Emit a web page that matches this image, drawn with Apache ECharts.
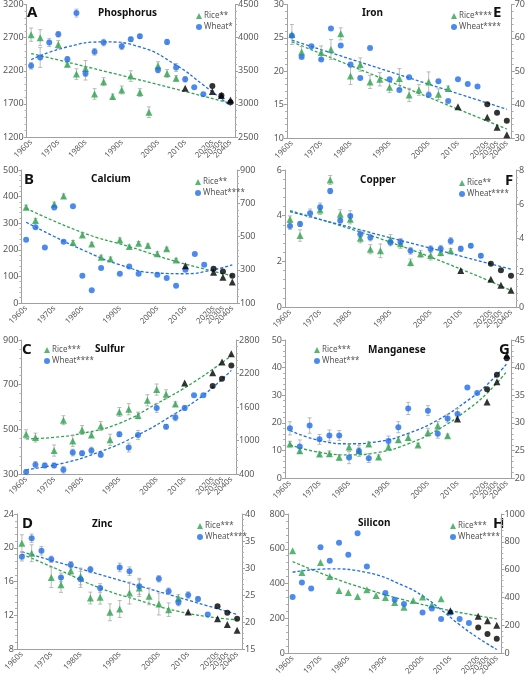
<!DOCTYPE html>
<html>
<head>
<meta charset="utf-8">
<script src="https://cdn.jsdelivr.net/npm/echarts@6/dist/echarts.min.js"></script>
<style>
  html, body { margin: 0; padding: 0; background: #fff; }
  #chart { width: 528px; height: 680px; }
</style>
</head>
<body>
<div id="chart"></div>
<script>
// x positions: 23 sampling slots, only some carry a decade label
const xLabels = ['1960s', '', '', '1970s', '', '', '1980s', '', '', '', '1990s', '', '', '',
  '2000s', '', '', '2010s', '', '', '2020s', '2030s', '2040s'];

// [slot, value, error]
// A - Phosphorus
const riceA = [[0,2745,100],[1,2700,120],[3,2595,60],[4,2300,40],[5,2150,80],[6,2235,120],[7,1850,80],[8,2035,60],
  [9,1810,40],[10,1910,60],[11,2120,80],[12,1870,60],[13,1575,80],[14,2275,60],[15,2160,60],[16,2085,40]];
const riceProjA = [[17,1935],[20,1885],[21,1825],[22,1760]];
const wheatA = [[0,3575,50],[1,3700,150],[2,3925,60],[3,4050,40],[4,3675,40],[5,4370,60],[6,3460,100],[7,3785,50],
  [8,3925,50],[10,3870,50],[11,3975,30],[12,4020,30],[14,3510,40],[15,3935,40],[16,3550,60],[17,3370,40],[18,3250,0],[19,3145,0]];
const wheatProjA = [[20,3270],[21,3125],[22,3025]];
const riceFitA = [[0,2460],[11,2095],[22,1710]];
const wheatFitA = [[0,3670],[4,3860],[8,3935],[12,3860],[16,3585],[19,3285],[22,2970]];

// E - Iron
const riceE = [[0,25.5,1.5],[1,22.9,0.8],[3,22.8,1],[4,23.25,1.5],[5,25.6,0.9],[6,19.3,1.3],[7,21.0,1],[8,18.4,1],
  [9,18.8,1],[10,17.6,0.8],[11,18.9,1.5],[12,16.45,1],[13,17.2,0.8],[14,18.4,1.5],[15,16.55,0.8],[16,17.4,0.4]];
const riceProjE = [[17,14.7],[20,13.1],[21,11.6],[22,10.5]];
const wheatE = [[0,60.6],[1,54.3],[2,57.5],[3,53.5],[4,62.8],[5,57.7],[6,52.0],[7,48.0],[8,57.0],[10,47.6],
  [11,44.4],[12,48.2],[14,42.9],[15,47.0],[16,41.1],[17,47.6],[18,46.2],[19,45.4]];
const wheatProjE = [[20,40.1],[21,37.6],[22,35.2]];
const riceFitE = [[0,24.4],[22,11.35]];
const wheatFitE = [[0,59.3],[22,38.6]];

// B - Calcium
const riceB = [[0,360,8],[1,310,8],[3,371,8],[4,402,8],[5,227,8],[6,256,8],[7,222,6],[8,172,8],[9,165,8],
  [10,237,8],[11,212,6],[12,225,6],[13,216,6],[14,185,8],[15,204,6],[16,162,6]];
const riceProjB = [[17,140],[20,116],[21,97],[22,79]];
const wheatB = [[0,480],[1,556],[2,434],[3,674],[4,468],[5,682],[6,264],[7,176],[8,310],[10,276],[11,320],
  [12,276],[14,270],[15,250],[16,204],[17,300],[18,394],[19,330]];
const wheatProjB = [[20,306],[21,290],[22,264]];
const riceFitB = [[0,356],[6,265],[11,212],[16,156],[22,102]];
const wheatFitB = [[0,586],[3,500],[6,420],[10,330],[14,280],[17,276],[20,300],[22,330]];

// F - Copper
const riceF = [[0,3.84,0.15],[1,3.13,0.25],[3,4.25,0.2],[4,5.56,0.2],[5,4.06,0.2],[6,3.84,0.2],[7,3.01,0.2],
  [8,2.53,0.2],[9,2.46,0.3],[10,2.97,0.2],[11,2.77,0.2],[12,1.95,0.15],[13,2.33,0.15],[14,2.26,0.2],[15,2.39,0.15],[16,2.46,0.1]];
const riceProjF = [[17,1.6],[20,1.22],[21,0.95],[22,0.73]];
const wheatF = [[0,4.73,0.2],[1,4.85,0.15],[2,5.47,0.25],[3,5.82,0.25],[4,6.77,0.15],[5,5.05,0.15],[6,5.32,0.3],
  [7,4.25,0.2],[8,4.06,0.2],[10,3.77,0.2],[11,3.79,0.2],[12,3.28,0.2],[14,3.38,0.2],[15,3.4,0.2],[16,3.86,0.2],
  [17,3.4,0.15],[18,3.57,0.1],[19,2.99,0.1]];
const wheatProjF = [[20,2.52],[21,2.14],[22,1.82]];
const riceFitF = [[0,4.22],[11,2.68],[22,0.73]];
const wheatFitF = [[0,5.57],[22,2.21]];

// C - Sulfur
const riceC = [[0,478,20],[1,463,20],[3,405,25],[4,541,20],[5,448,25],[6,497,20],[7,475,10],[8,515,20],
  [9,453,25],[10,578,20],[11,590,25],[12,562,15],[13,630,25],[14,678,25],[15,657,20],[16,613,10]];
const riceProjC = [[17,707],[20,753],[21,801],[22,838]];
const wheatC = [[0,436,40],[1,564,60],[2,554,40],[3,554,40],[4,476,60],[5,784,60],[6,772,40],[7,820,60],
  [8,744,40],[10,1112,40],[11,874,80],[12,1100,80],[14,1584,80],[15,1248,40],[16,1412,60],[17,1584,40],[18,1812,0],[19,1812,0]];
const wheatProjC = [[20,1976],[21,2108],[22,2344]];
const riceFitC = [[0,457],[3,464],[6,482],[10,527],[14,615],[18,712],[22,830]];
const wheatFitC = [[0,476],[4,596],[8,804],[12,1100],[16,1484],[19,1812],[22,2256]];

// G - Manganese
const riceG = [[0,12.3,1],[1,9.9,1],[3,8.7,0.8],[4,8.8,1],[5,7.5,1],[6,11.2,1],[7,9.9,1],[8,12.3,0.8],
  [9,7.6,0.8],[10,11.2,1],[11,13.9,1],[12,14.7,1],[13,12.0,0.6],[14,16.5,1.5],[15,18.9,1.5],[16,15.3,0.6]];
const riceProjG = [[17,21.4],[20,27.5],[21,34.9],[22,44.5]];
const wheatG = [[0,29.0,1.2],[1,25.7,1.2],[2,29.5,1.4],[3,27.0,0.9],[4,27.7,1],[5,27.7,0.9],[6,23.7,1.1],
  [7,24.9,1],[8,23.6,0.8],[10,26.7,0.9],[11,29.2,1],[12,32.6,1.1],[14,32.2,0.9],[15,28.0,0.8],[16,30.8,0.7],
  [17,31.6,1],[18,36.4,0],[19,35.4,0]];
const wheatProjG = [[20,36.1],[21,38.7],[22,41.7]];
const riceFitG = [[0,12.0],[3,9.3],[6,8.4],[9,9.3],[12,12.4],[15,17.5],[18,24.7],[20,30.7],[22,38.6]];
const wheatFitG = [[0,28.6],[3,26.8],[6,26.2],[9,26.6],[12,28.1],[15,30.5],[18,34.0],[20,36.9],[22,40.7]];

// D - Zinc
const riceD = [[0,20.54,1],[1,19.35,1],[3,16.48,1.2],[4,15.61,0.9],[5,17.27,0.5],[6,16.6,1],[7,14.04,0.7],
  [8,14.12,0.8],[9,12.35,1],[10,12.74,1],[11,14.63,1.3],[12,15.22,1],[13,14.24,1],[14,13.33,1.3],[15,12.66,0.8],[16,14.04,0.4]];
const riceProjD = [[17,12.39],[20,11.6],[21,10.89],[22,10.22]];
const wheatD = [[0,32.1,0.8],[1,35.5,0.8],[2,33.2,0.8],[3,31.6,0.6],[4,28.25,0.8],[5,30.6,0.6],[6,27.9,1.5],
  [7,29.7,0.6],[8,26.3,0.8],[10,30.1,0.8],[11,29.4,0.8],[12,26.6,1.5],[14,28.0,0.6],[15,25.7,0.6],[16,23.6,0.6],
  [17,25.0,0.6],[18,24.25,0.4],[19,21.4,0]];
const wheatProjD = [[20,22.9],[21,21.7],[22,20.6]];
const riceFitD = [[0,19.24],[4,17.27],[8,15.22],[12,13.76],[16,12.46],[20,11.68],[22,11.48]];
const wheatFitD = [[0,33.0],[22,21.4]];

// H - Silicon
const riceH = [[0,588],[1,463],[3,521],[4,440],[5,360],[6,348],[7,325],[8,364],[9,331],[10,320],[11,291],
  [12,264],[13,302],[14,322],[15,277],[16,312]];
const riceProjH = [[17,243],[20,211],[21,186],[22,159]];
const wheatH = [[0,402],[1,507],[2,464],[3,761],[4,663],[5,794],[6,706],[7,861],[8,622],[10,431],[11,383],
  [12,352],[14,292],[15,321],[16,244],[17,292],[18,244],[19,215]];
const wheatProjH = [[20,184],[21,136],[22,103]];
const riceFitH = [[0,526],[4,440],[8,367],[12,306],[16,255],[20,214],[22,197]];
const wheatFitH = [[0,581],[4,605],[8,579],[12,483],[14,411],[16,311],[18,203],[20,108],[22,25]];

const GREEN = '#2ea44f';
const BLUE = '#1f6ee8';
const FONT = 'Noto Sans';

const panels = [
  { letter: 'A', name: 'Phosphorus', riceLabel: 'Rice**', wheatLabel: 'Wheat*',
    rice: riceA, riceProj: riceProjA, wheat: wheatA, wheatProj: wheatProjA, riceFit: riceFitA, wheatFit: wheatFitA,
    yl: [1200, 3200, 500], yr: [2500, 4500, 500],
    grid: { left: 23, top: 4, width: 212, height: 133 }, letterAt: [27, 5], titleAt: [128, 8], legendAt: [191, 7] },
  { letter: 'E', name: 'Iron', riceLabel: 'Rice****', wheatLabel: 'Wheat****',
    rice: riceE, riceProj: riceProjE, wheat: wheatE, wheatProj: wheatProjE, riceFit: riceFitE, wheatFit: wheatFitE,
    yl: [10, 30, 5], yr: [30, 70, 10],
    grid: { left: 287, top: 4, width: 225, height: 134 }, letterAt: [493, 5], titleAt: [392, 8], legendAt: [446, 7] },
  { letter: 'B', name: 'Calcium', riceLabel: 'Rice**', wheatLabel: 'Wheat****',
    rice: riceB, riceProj: riceProjB, wheat: wheatB, wheatProj: wheatProjB, riceFit: riceFitB, wheatFit: wheatFitB,
    yl: [0, 500, 100], yr: [100, 900, 200],
    grid: { left: 18, top: 170, width: 219, height: 133 }, letterAt: [24, 172], titleAt: [121, 174], legendAt: [190, 173] },
  { letter: 'F', name: 'Copper', riceLabel: 'Rice**', wheatLabel: 'Wheat****',
    rice: riceF, riceProj: riceProjF, wheat: wheatF, wheatProj: wheatProjF, riceFit: riceFitF, wheatFit: wheatFitF,
    yl: [0, 6, 2], yr: [0, 8, 2],
    grid: { left: 285, top: 170, width: 231, height: 137 }, letterAt: [505, 173], titleAt: [390, 175], legendAt: [454, 174] },
  { letter: 'C', name: 'Sulfur', riceLabel: 'Rice***', wheatLabel: 'Wheat****',
    rice: riceC, riceProj: riceProjC, wheat: wheatC, wheatProj: wheatProjC, riceFit: riceFitC, wheatFit: wheatFitC,
    yl: [300, 900, 200], yr: [400, 2800, 600],
    grid: { left: 20, top: 340, width: 216, height: 134 }, letterAt: [22, 342], titleAt: [125, 344], legendAt: [39, 341] },
  { letter: 'G', name: 'Manganese', riceLabel: 'Rice***', wheatLabel: 'Wheat***',
    rice: riceG, riceProj: riceProjG, wheat: wheatG, wheatProj: wheatProjG, riceFit: riceFitG, wheatFit: wheatFitG,
    yl: [0, 50, 10], yr: [20, 45, 5],
    grid: { left: 285, top: 340, width: 227, height: 138 }, letterAt: [499, 342], titleAt: [398, 345], legendAt: [309, 341] },
  { letter: 'D', name: 'Zinc', riceLabel: 'Rice***', wheatLabel: 'Wheat****',
    rice: riceD, riceProj: riceProjD, wheat: wheatD, wheatProj: wheatProjD, riceFit: riceFitD, wheatFit: wheatFitD,
    yl: [8, 24, 4], yr: [15, 40, 5],
    grid: { left: 17, top: 514, width: 225, height: 135 }, letterAt: [22, 516], titleAt: [122, 519], legendAt: [192, 517] },
  { letter: 'H', name: 'Silicon', riceLabel: 'Rice***', wheatLabel: 'Wheat****',
    rice: riceH, riceProj: riceProjH, wheat: wheatH, wheatProj: wheatProjH, riceFit: riceFitH, wheatFit: wheatFitH,
    yl: [0, 800, 200], yr: [0, 1000, 200],
    grid: { left: 288, top: 514, width: 219, height: 139 }, letterAt: [493, 516], titleAt: [388, 518], legendAt: [445, 517] }
];

// vertical error bar with small caps
function errorBars(params, api) {
  const e = api.value(2);
  if (!e) return null;
  const x = api.value(0), y = api.value(1);
  const top = api.coord([x, y + e]);
  const bot = api.coord([x, y - e]);
  const style = { stroke: '#a9a9a9', lineWidth: 0.8 };
  return {
    type: 'group',
    children: [
      { type: 'line', shape: { x1: top[0], y1: top[1], x2: bot[0], y2: bot[1] }, style },
      { type: 'line', shape: { x1: top[0] - 2, y1: top[1], x2: top[0] + 2, y2: top[1] }, style },
      { type: 'line', shape: { x1: bot[0] - 2, y1: bot[1], x2: bot[0] + 2, y2: bot[1] }, style }
    ]
  };
}

function yAxis(gridIndex, range, position) {
  return {
    type: 'value', gridIndex, position,
    min: range[0], max: range[1], interval: range[2],
    axisLine: { show: true, lineStyle: { color: '#a0a0a0' } },
    axisTick: { show: true, length: 3, lineStyle: { color: '#a0a0a0' } },
    minorTick: { show: true, splitNumber: 5, length: 2, lineStyle: { color: '#b0b0b0' } },
    splitLine: { show: false },
    axisLabel: { fontSize: 9, color: '#595959', fontFamily: FONT, margin: 3, formatter: v => String(v) }
  };
}

const grids = [], xAxes = [], yAxes = [], series = [], legends = [], texts = [];

panels.forEach((p, i) => {
  grids.push(Object.assign({ containLabel: false }, p.grid));
  xAxes.push({
    type: 'category', gridIndex: i, boundaryGap: true,
    data: xLabels.map((_, k) => String(k)),
    axisLine: { lineStyle: { color: '#a0a0a0' } },
    axisTick: { show: false },
    axisLabel: {
      interval: 0, rotate: 45, fontSize: 8, color: '#595959', fontFamily: FONT, margin: 4,
      formatter: (v, k) => xLabels[k]
    }
  });
  yAxes.push(yAxis(i, p.yl, 'left'), yAxis(i, p.yr, 'right'));
  const yl = 2 * i, yr = 2 * i + 1;
  const fit = (data, y, color) => ({
    type: 'line', xAxisIndex: i, yAxisIndex: y, data, smooth: true, symbol: 'none', silent: true, z: 1,
    lineStyle: { color, width: 1.3, type: [3, 2] }
  });
  const bars = (data, y) => ({
    type: 'custom', xAxisIndex: i, yAxisIndex: y, data, renderItem: errorBars,
    encode: { x: 0, y: 1 }, silent: true, z: 2
  });
  const dots = (name, data, y, symbol, size, color) => ({
    type: 'scatter', name, xAxisIndex: i, yAxisIndex: y, data, symbol, symbolSize: size,
    itemStyle: { color }, silent: true, z: 3
  });
  series.push(
    fit(p.riceFit, yl, GREEN),
    fit(p.wheatFit, yr, BLUE),
    bars(p.rice, yl),
    bars(p.wheat, yr),
    dots(p.riceLabel, p.rice, yl, 'triangle', 7, GREEN),
    dots(p.wheatLabel, p.wheat, yr, 'circle', 6, BLUE),
    dots('rice projected', p.riceProj, yl, 'triangle', 7, '#000'),
    dots('wheat projected', p.wheatProj, yr, 'circle', 6, '#000')
  );
  legends.push({
    left: p.legendAt[0], top: p.legendAt[1], orient: 'vertical', selectedMode: false,
    itemWidth: 6, itemHeight: 6, itemGap: 3,
    textStyle: { fontSize: 8, color: '#555', fontFamily: FONT, padding: [0, 0, 0, -3] },
    data: [{ name: p.riceLabel, icon: 'triangle' }, { name: p.wheatLabel, icon: 'circle' }]
  });
  texts.push(
    { type: 'text', left: p.letterAt[0], top: p.letterAt[1],
      style: { text: p.letter, font: 'bold 15px ' + FONT, fill: '#111' } },
    { type: 'text', left: p.titleAt[0] - 30, top: p.titleAt[1],
      style: { text: p.name, font: 'bold 10px ' + FONT, fill: '#111', width: 60, align: 'center' } }
  );
});

const chart = echarts.init(document.getElementById('chart'));
chart.setOption({
  animation: false,
  backgroundColor: '#fff',
  grid: grids,
  xAxis: xAxes,
  yAxis: yAxes,
  legend: legends,
  graphic: texts,
  series
});
</script>
</body>
</html>
